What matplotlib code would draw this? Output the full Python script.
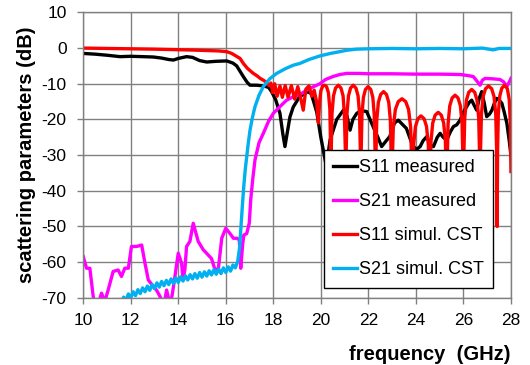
import matplotlib
matplotlib.use("Agg")
import matplotlib.pyplot as plt

plt.rcParams['font.family'] = ['Liberation Sans', 'DejaVu Sans']
plt.rcParams['axes.unicode_minus'] = False

# ---------------- data ----------------
s11_meas_f = [10.0, 10.5, 11.0, 11.55, 12.0, 12.5, 12.95, 13.3, 13.6, 13.8, 14.0, 14.35, 14.6, 14.9,
              15.2, 15.6, 16.04, 16.3, 16.46, 16.6, 16.74, 16.9, 17.02, 17.3, 17.58, 17.8, 17.93,
              18.1, 18.28, 18.4, 18.49, 18.58, 18.7, 18.84, 18.98, 19.1, 19.26, 19.45, 19.6, 19.83,
              20.0, 20.2, 20.3, 20.39, 20.67, 20.95, 21.1, 21.23, 21.35, 21.51, 21.7, 21.93, 22.2,
              22.4, 22.56, 22.75, 22.9, 23.1, 23.26, 23.45, 23.6, 23.83, 24.0, 24.18, 24.3, 24.46,
              24.6, 24.74, 24.9, 25.02, 25.15, 25.3, 25.45, 25.58, 25.72, 25.86, 26.0, 26.14, 26.25,
              26.35, 26.45, 26.56, 26.67, 26.77, 26.88, 26.98, 27.1, 27.2, 27.3, 27.4, 27.5, 27.62,
              27.72, 27.83, 27.93, 28.0]
s11_meas_db = [-1.5, -1.7, -2.0, -2.4, -2.3, -2.4, -2.5, -2.8, -3.2, -3.35, -2.9, -2.4, -2.6, -3.5,
               -3.9, -3.7, -3.6, -4.2, -5.0, -6.5, -8.0, -9.6, -10.4, -10.4, -10.6, -11.0, -12.2,
               -14.5, -18.3, -24.0, -27.6, -24.0, -19.3, -16.5, -15.0, -13.6, -13.0, -12.2, -12.8, -18.0,
               -25.0, -32.0, -30.0, -25.7, -20.0, -17.4, -19.0, -23.0, -20.0, -18.3, -17.5, -17.8, -22.0,
               -25.0, -27.6, -26.0, -24.8, -21.0, -20.2, -21.5, -22.5, -26.7, -28.5, -27.6, -26.0, -24.8,
               -27.0, -27.6, -25.0, -23.9, -25.0, -25.8, -23.5, -22.0, -21.5, -20.2, -18.0, -16.4, -15.2,
               -14.6, -16.0, -17.4, -14.0, -12.2, -15.5, -19.2, -18.5, -17.4, -15.5, -14.1, -14.5, -15.5,
               -18.0, -21.1, -26.0, -30.0]

s21_meas_f = [10.0, 10.14, 10.28, 10.42, 10.5, 10.62, 10.77, 10.91, 11.05, 11.26, 11.47, 11.61, 11.75,
              11.9, 12.03, 12.25, 12.46, 12.6, 12.74, 12.95, 13.1, 13.23, 13.4, 13.51, 13.65, 13.75,
              13.86, 14.0, 14.14, 14.2, 14.28, 14.35, 14.49, 14.63, 14.75, 14.84, 15.05, 15.26, 15.4,
              15.55, 15.69, 15.83, 16.0, 16.18, 16.32, 16.48, 16.57, 16.63, 16.71, 16.76, 16.88, 16.99,
              17.05, 17.13, 17.23, 17.4, 17.58, 17.8, 18.0, 18.28, 18.56, 18.85, 19.12, 19.5, 19.96,
              20.2, 20.5, 20.8, 21.1, 21.6, 22.0, 23.0, 24.0, 25.0, 25.86, 26.2, 26.42, 26.6, 26.7,
              26.8, 26.91, 27.2, 27.54, 27.7, 27.83, 27.93, 28.0]
s21_meas_db = [-58.4, -61.7, -61.7, -69.6, -72.0, -72.0, -68.7, -71.0, -67.8, -62.6, -62.2, -64.0, -61.7,
               -61.7, -55.6, -55.6, -55.2, -60.3, -65.0, -66.8, -68.0, -69.6, -72.0, -67.8, -72.0, -69.0,
               -64.0, -57.5, -60.3, -65.0, -62.0, -55.6, -54.2, -49.1, -52.0, -54.2, -56.5, -58.0, -59.0,
               -62.2, -61.7, -53.3, -50.5, -52.0, -53.3, -53.3, -53.8, -61.7, -55.0, -52.4, -52.0, -49.0,
               -42.5, -37.0, -31.3, -26.5, -23.9, -20.5, -18.3, -16.4, -14.6, -13.6, -13.0, -11.4, -10.0,
               -8.8, -8.0, -7.4, -7.1, -7.1, -7.2, -7.2, -7.3, -7.3, -7.4, -7.7, -8.0, -9.5, -10.4,
               -9.0, -8.5, -8.6, -8.8, -9.5, -10.8, -9.5, -8.5]

s11_sim_f = [10.0, 11.0, 12.0, 13.0, 14.0, 14.6, 15.33, 15.7, 16.04, 16.25, 16.45, 16.6, 16.74, 16.9,
             17.0, 17.16, 17.3, 17.45, 17.58, 17.72, 17.82, 17.9, 17.98, 18.06, 18.16, 18.28, 18.38,
             18.5, 18.62, 18.76, 18.9, 19.03, 19.15, 19.26, 19.37, 19.5, 19.62, 19.72, 19.82, 19.9,
             19.95, 20.0, 20.08, 20.16, 20.24, 20.32, 20.38, 20.405, 20.42,
             20.439, 20.47, 20.533, 20.62, 20.735, 20.848, 20.937, 20.99, 21.031, 21.05,
             21.069, 21.10, 21.163, 21.252, 21.365, 21.478, 21.567, 21.63, 21.661, 21.68,
             21.699, 21.73, 21.792, 21.878, 21.99, 22.102, 22.188, 22.25, 22.281, 22.30,
             22.32, 22.354, 22.422, 22.518, 22.64, 22.762, 22.858, 22.926, 22.96, 22.98,
             23.006, 23.05, 23.137, 23.258, 23.415, 23.572, 23.693, 23.78, 23.824, 23.85,
             23.872, 23.908, 23.981, 24.084, 24.215, 24.346, 24.449, 24.522, 24.558, 24.58,
             24.602, 24.638, 24.71, 24.81, 24.94, 25.07, 25.17, 25.242, 25.278, 25.30,
             25.321, 25.356, 25.426, 25.524, 25.65, 25.776, 25.874, 25.944, 25.979, 26.0,
             26.021, 26.056, 26.126, 26.224, 26.35, 26.476, 26.574, 26.644, 26.679, 26.70,
             26.722, 26.758, 26.83, 26.93, 27.06, 27.19, 27.29, 27.362, 27.398, 27.42,
             27.439, 27.47, 27.532, 27.618, 27.74, 27.85, 27.93, 27.975, 28.0]
s11_sim_db = [0.0, -0.1, -0.2, -0.3, -0.45, -0.55, -0.7, -0.8, -1.0, -1.5, -2.3, -2.9, -4.3, -5.6,
              -6.2, -7.1, -7.7, -8.5, -9.0, -9.6, -10.5, -9.8, -12.5, -10.0, -13.5, -10.6, -13.8,
              -10.5, -13.8, -10.5, -14.3, -10.8, -14.0, -17.4, -11.5, -10.6, -13.5, -11.8, -15.0, -21.0,
              -15.0, -12.0, -10.6, -10.4, -10.8, -12.5, -17.0, -26.0, -45.0,
              -28.4, -18.4, -13.4, -11.2, -10.4, -11.2, -13.4, -18.4, -28.4, -45.0,
              -28.4, -18.4, -13.4, -11.2, -10.4, -11.2, -13.4, -18.4, -28.4, -45.0,
              -28.8, -18.8, -13.8, -11.6, -10.8, -11.6, -13.8, -18.8, -28.8, -45.0,
              -30.2, -20.2, -15.2, -13.0, -12.2, -13.0, -15.2, -20.2, -30.2, -45.0,
              -32.2, -22.2, -17.2, -15.0, -14.2, -15.0, -17.2, -22.2, -32.2, -45.0,
              -37.0, -27.0, -22.0, -19.8, -19.0, -19.8, -22.0, -27.0, -37.0, -50.0,
              -36.0, -26.0, -21.0, -18.8, -18.0, -18.8, -21.0, -26.0, -36.0, -50.0,
              -31.2, -21.2, -16.2, -14.0, -13.2, -14.0, -16.2, -21.2, -31.2, -46.0,
              -29.6, -19.6, -14.6, -12.4, -11.6, -12.4, -14.6, -19.6, -29.6, -46.0,
              -28.6, -18.6, -13.6, -11.4, -10.6, -11.4, -13.6, -18.6, -28.6, -50.0,
              -28.4, -18.4, -13.4, -11.2, -10.4, -11.4, -14.5, -21.0, -34.6]

s21_sim_f = [11.6, 11.7, 11.8, 11.9, 12.0, 12.1, 12.2, 12.3, 12.4, 12.5, 12.6, 12.7, 12.8, 12.9,
             13.0, 13.1, 13.2, 13.3, 13.4, 13.5, 13.6, 13.7, 13.8, 13.9, 14.0, 14.1, 14.2, 14.3,
             14.4, 14.5, 14.6, 14.7, 14.8, 14.9, 15.0, 15.1, 15.2, 15.3, 15.4, 15.5, 15.6, 15.7,
             15.8, 15.9, 16.0, 16.1, 16.2, 16.3, 16.4, 16.5, 16.58, 16.64, 16.7, 16.76, 16.82,
             16.88, 16.95, 17.02, 17.12, 17.23, 17.4, 17.58, 17.85, 18.14, 18.5, 18.84, 19.12, 19.5,
             19.96, 20.4, 20.8, 21.1, 21.5, 22.0, 23.0, 24.0, 25.0, 26.0, 26.8, 27.25, 27.5, 28.0]
s21_sim_db = [-71.7, -69.8, -70.7, -68.9, -70.0, -68.3, -69.4, -67.7, -68.8, -67.2, -68.3, -66.7, -67.9, -66.3,
              -67.4, -65.8, -67.0, -65.4, -66.6, -65.1, -66.3, -64.7, -66.0, -64.4, -65.7, -64.1, -65.3, -63.8,
              -65.0, -63.5, -64.7, -63.2, -64.5, -62.9, -64.2, -62.7, -63.9, -62.4, -63.6, -62.1, -63.4, -61.9,
              -63.2, -61.6, -62.9, -61.3, -62.5, -60.8, -61.6, -59.8, -56.0, -50.0, -44.0, -38.5, -34.0,
              -30.5, -26.5, -23.0, -19.5, -16.4, -13.2, -10.8, -8.6, -7.1, -5.8, -4.8, -4.3, -3.2,
              -2.2, -1.5, -1.0, -0.6, -0.3, -0.2, -0.1, -0.2, -0.1, -0.2, 0.0, -0.5, -0.1, -0.1]

labels = ["S11 measured", "S21 measured", "S11 simul. CST", "S21 simul. CST"]
colors = ["#000000", "#FF00FF", "#FF0000", "#00B0F0"]
x_ticks = [10, 12, 14, 16, 18, 20, 22, 24, 26, 28]
y_ticks = [10, 0, -10, -20, -30, -40, -50, -60, -70]

# ---------------- figure ----------------
fig = plt.figure(figsize=(5.3, 3.65), dpi=100)
ax = fig.add_axes([0.157, 0.184, 0.807, 0.782])

series = [(s11_meas_f, s11_meas_db), (s21_meas_f, s21_meas_db),
          (s11_sim_f, s11_sim_db), (s21_sim_f, s21_sim_db)]
for (f, v), lab, c in zip(series, labels, colors):
    ax.plot(f, v, color=c, lw=2.4, label=lab, solid_joinstyle='round')

ax.set_xlim(10, 28)
ax.set_ylim(-70, 10)
ax.set_xticks(x_ticks)
ax.set_yticks(y_ticks)
ax.grid(True, color='#808080', lw=1.0)
ax.set_axisbelow(True)
for sp in ax.spines.values():
    sp.set_color('#808080')
    sp.set_linewidth(1.0)
ax.tick_params(axis='both', direction='out', length=4, width=1, color='#808080',
               labelsize=12.5, labelcolor='black')
ax.tick_params(axis='x', pad=7)
ax.tick_params(axis='y', pad=8)

ax.set_xlabel("frequency  (GHz)", fontsize=14.5, fontweight='bold', loc='right', labelpad=12)
ax.set_ylabel("scattering parameters (dB)", fontsize=14.5, fontweight='bold', labelpad=4)

leg = ax.legend(loc='upper left', bbox_to_anchor=(0.563, 0.518), borderaxespad=0,
                fontsize=13, frameon=True, fancybox=False, framealpha=1,
                edgecolor='black', handlelength=1.3, handletextpad=0.15,
                labelspacing=0.95, borderpad=0.5)
leg.get_frame().set_linewidth(1.0)

fig.savefig("out.png", dpi=100)
